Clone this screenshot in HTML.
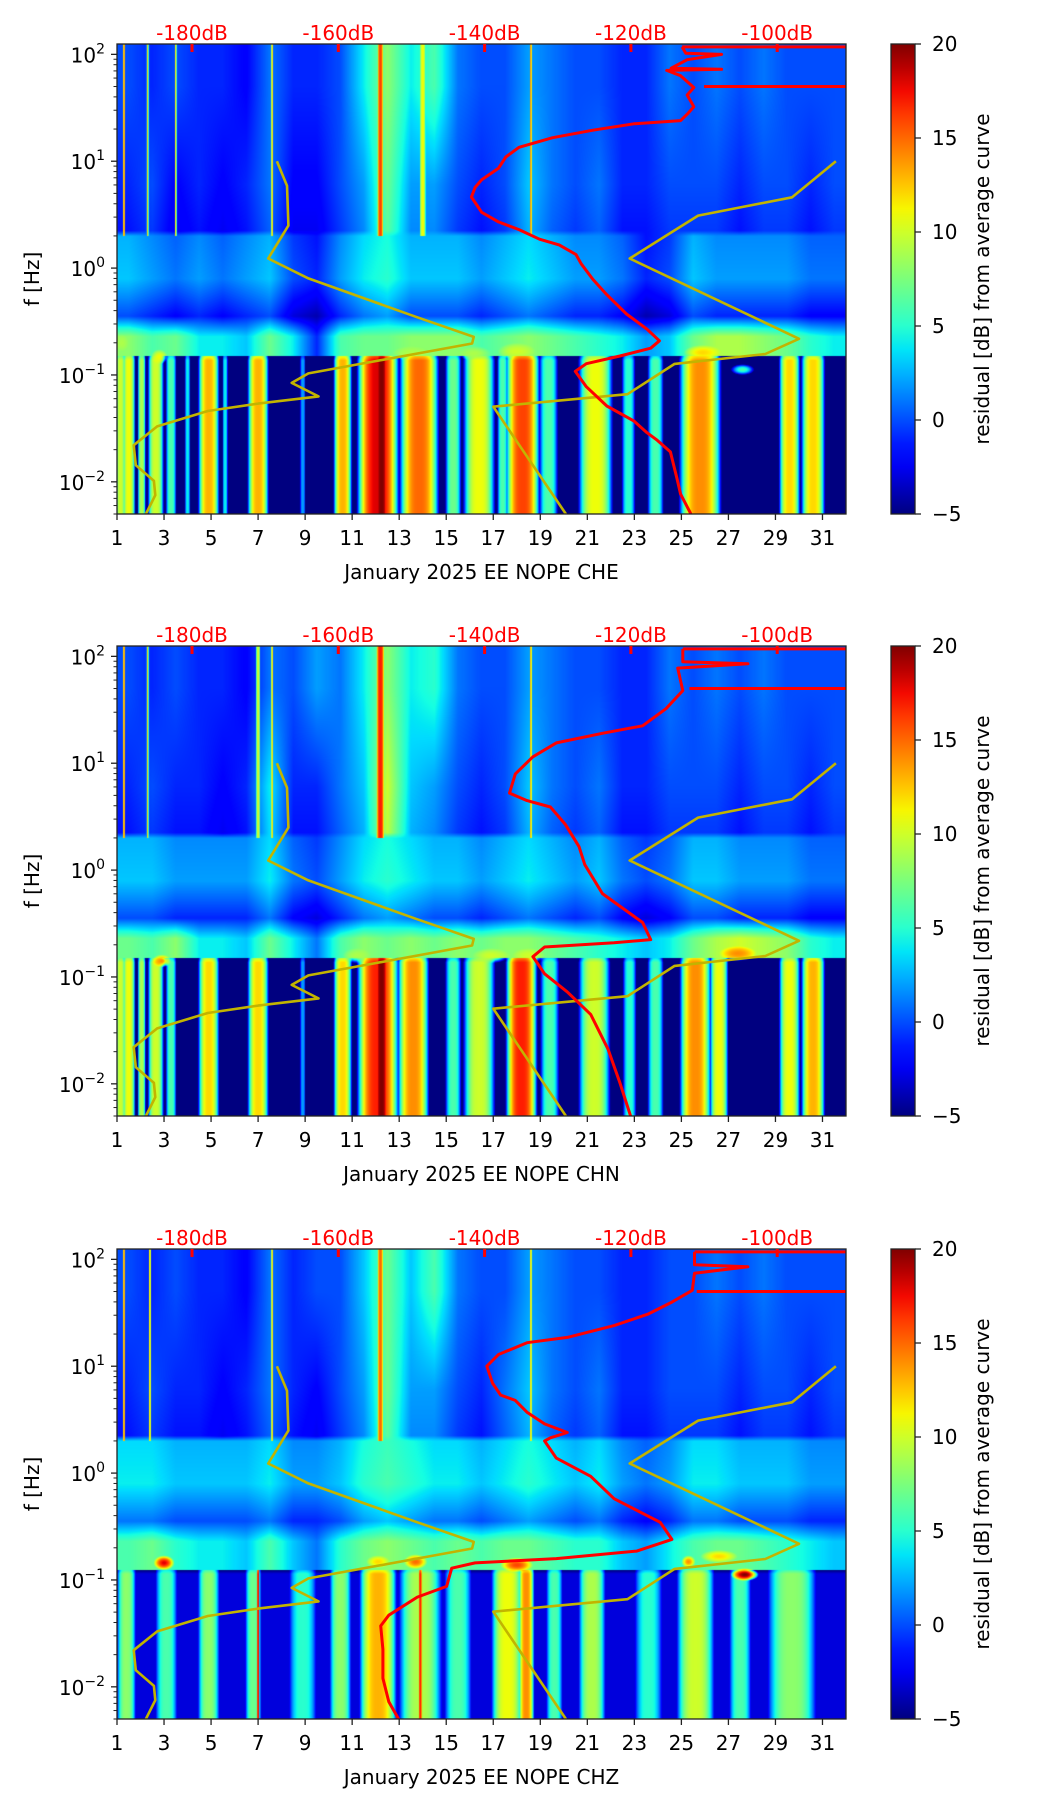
<!DOCTYPE html>
<html><head><meta charset="utf-8">
<style>
html,body{margin:0;padding:0;background:#fff;}
body{width:1052px;height:1806px;position:relative;overflow:hidden;font-family:"DejaVu Sans","Liberation Sans",sans-serif;}
canvas{position:absolute;}
svg{position:absolute;left:0;top:0;}
</style></head>
<body>
<canvas id="c0" width="729" height="470" style="left:117px;top:44px"></canvas>
<canvas id="c1" width="729" height="470" style="left:117px;top:646px"></canvas>
<canvas id="c2" width="729" height="470" style="left:117px;top:1249px"></canvas>
<svg id="ov" width="1052" height="1806"></svg>
<script>
// ---------- data ----------
const panelTops = [44, 646, 1249];
const channelNames = ["CHE", "CHN", "CHZ"];
const dayTicks = [1,3,5,7,9,11,13,15,17,19,21,23,25,27,29,31];
const freqDecades = [-2,-1,0,1,2];
const dbTicks = [-180,-160,-140,-120,-100];
const cbTicks = [20,15,10,5,0,-5];

// low-frequency stripes [centerDay, halfWidthDays, level dB]
const lowStripes1 = [[1.15,0.2,10],[1.5,0.25,11],[2.05,0.15,9],[2.65,0.3,10],[3.3,0.2,6],[4.0,0.1,4],[4.9,0.4,13],[5.6,0.1,4],[7.0,0.4,13],[8.9,0.1,2],[10.6,0.35,13],[12.1,0.8,18],[12.25,0.3,20],[13.85,0.75,15],[15.3,0.3,7],[16.4,0.6,11],[17.4,0.2,6],[18.25,0.65,16],[19.35,0.35,6],[21.35,0.65,11],[22.75,0.25,5],[23.9,0.3,6],[25.8,0.8,14],[29.6,0.4,12],[30.6,0.45,12]];
const lowStripes2 = [[1.15,0.2,10],[1.5,0.25,11],[2.05,0.15,9],[2.65,0.3,10],[3.3,0.2,6],[4.9,0.4,12],[7.0,0.4,12],[8.9,0.1,2],[10.6,0.35,12],[12.1,0.8,17],[12.25,0.3,20],[13.6,0.6,14],[15.3,0.3,6],[16.4,0.6,10],[18.2,0.6,17],[19.4,0.35,6],[21.3,0.6,10],[22.8,0.25,5],[23.9,0.3,6],[25.6,0.6,14],[26.6,0.35,11],[29.6,0.4,11],[30.6,0.45,13]];
const lowStripes3 = [[1.4,0.35,8],[3.1,0.4,6],[4.9,0.4,8],[6.8,0.3,7],[7.0,0.05,18],[8.9,0.5,5],[10.5,0.4,8],[12.1,0.7,13],[13.9,0.8,9],[13.9,0.08,17],[15.5,0.5,6],[17.6,0.6,11],[18.4,0.3,14],[19.6,0.3,6],[21.2,0.5,9],[23.6,0.5,5],[25.6,0.7,10],[27.5,0.4,6],[29.7,0.9,8]];

// daily band levels (day 1..31)
const hiBand1 = [0,-1,0,-1,-1,-2,1,-1,-1,0,4,8,4,6,1,0,0,2,1,0,0,-1,-1,1,0,1,0,1,0,0,0];
const midBand1 = [-1,0,-2,-1,-2,-1,1,-2,-2,0,2,7,2,2,0,-1,0,3,1,0,1,-1,-1,0,0,0,-1,0,0,-1,0];
const lowMidBand1 = [3,2,1,2,1,2,3,0,-1,2,4,5,3,3,3,2,3,4,3,2,2,1,-1,0,3,2,2,2,2,1,1];
const micBand1 = [8,6,7,4,4,3,7,4,-1,6,7,7,8,8,8,6,7,8,7,6,5,4,2,3,7,9,9,8,7,5,4];

const hiBand2 = [0,-1,0,-1,-1,-2,1,0,2,1,4,8,4,5,1,0,0,2,1,0,0,-1,-1,1,0,1,0,1,0,0,0];
const midBand2 = [-1,0,-1,-1,-2,-1,4,-1,-1,1,3,10,3,2,0,-1,0,3,1,0,1,-1,-1,0,0,0,-1,0,0,-1,0];
const lowMidBand2 = [3,3,2,2,2,2,4,1,0,2,4,5,4,3,3,2,3,4,3,2,3,1,0,1,3,3,2,2,2,1,1];
const micBand2 = [7,6,8,4,4,3,7,4,1,6,8,7,8,7,8,7,8,8,7,6,5,4,3,4,7,9,10,9,8,5,4];

const hiBand3 = [0,-1,0,-1,-1,-2,1,-1,0,0,3,7,3,6,1,0,0,2,1,0,0,-1,-1,0,0,1,0,1,0,0,0];
const midBand3 = [-1,0,-1,-1,-2,-1,1,-1,-2,0,2,7,2,2,0,-1,1,3,1,0,1,-1,-1,0,0,0,-1,0,0,-1,0];
const lowMidBand3 = [4,4,3,3,3,3,4,2,2,3,5,6,5,4,4,3,4,5,4,3,4,2,1,2,4,4,3,3,3,2,2];
const micBand3 = [6,7,5,4,4,3,6,3,1,5,7,8,7,6,7,6,7,7,6,5,5,3,2,4,6,7,7,6,5,4,3];

// upper streaks [centerDay, halfWidth, level]
const streaks1 = [[12.2,0.15,16],[1.3,0.05,14],[2.3,0.05,12],[3.5,0.04,12],[7.6,0.05,12],[18.6,0.05,14],[14.0,0.15,11]];
const streaks2 = [[12.2,0.2,17],[1.3,0.05,14],[2.3,0.05,12],[7.6,0.05,12],[18.6,0.05,13],[7.0,0.1,10]];
const streaks3 = [[12.2,0.15,15],[1.3,0.05,14],[2.4,0.05,12],[7.6,0.05,12],[18.6,0.05,12]];

// blobs [day, halfWidthDays, log10 f, halfWidth log10 f, level]
const blobs1 = [[2.8,0.35,-0.83,0.07,11],[1.2,0.3,-0.7,0.08,9],[25.9,0.8,-0.79,0.07,12],[27.6,0.5,-0.95,0.05,6],[16.2,0.7,-0.8,0.07,9],[18,0.8,-0.78,0.08,10],[13.5,0.8,-0.8,0.07,9]];
const blobs2 = [[2.9,0.4,-0.85,0.06,14],[27.4,0.8,-0.78,0.07,14],[16.9,0.8,-0.8,0.07,10],[11.2,0.6,-0.8,0.07,9],[18.5,0.7,-0.8,0.07,10]];
const blobs3 = [[3.0,0.45,-0.84,0.07,18],[13.7,0.5,-0.83,0.07,15],[18.0,0.7,-0.86,0.07,16],[26.6,0.8,-0.78,0.06,12],[27.7,0.6,-0.95,0.06,20],[12.1,0.5,-0.83,0.06,12],[25.3,0.3,-0.83,0.06,14]];

// yellow reference curves (day, Hz)
const yellowADays = [7.8,8.23,8.29,7.43,9.14,13.71,16.17,16.1,9.14,8.43,9.57,7.0,4.86,2.71,1.71,1.8,2.57,2.63,2.23];
const yellowAFreqs = [10,5.9,2.5,1.23,0.8,0.35,0.227,0.197,0.1035,0.0843,0.063,0.054,0.046,0.033,0.022,0.0143,0.0102,0.0075,0.005];
const yellowBDays = [31.57,29.71,25.71,22.8,30.0,28.57,24.71,22.71,17.0,20.09];
const yellowBFreqs = [10,4.6,3.1,1.23,0.218,0.157,0.127,0.066,0.0505,0.005];

// red average curves (dB, log10 Hz)
const redDb1 = [-111.8,-113.2,-113.7,-114.6,-116.4,-117.8,-119.6,-123.3,-126.1,-127.6,-126.1,-121.5,-117.3,-116.1,-117.8,-120.6,-123.3,-125.2,-126.8,-127.5,-129.8,-132.5,-135.3,-138.1,-140.4,-141.8,-141.3,-140.4,-138.1,-137.1,-135.3,-130.7,-125.2,-119.6,-113.2,-112.3,-111.4,-112.3,-111.4,-113.2,-115.1,-107.6,-114.5,-112.3,-107.6,-112.5,-113];
const redLogF1 = [-2.301,-2.115,-1.97,-1.72,-1.61,-1.54,-1.43,-1.29,-1.11,-0.967,-0.895,-0.823,-0.75,-0.68,-0.572,-0.43,-0.249,-0.106,0.04,0.127,0.217,0.27,0.36,0.432,0.522,0.665,0.755,0.827,0.935,1.04,1.13,1.22,1.29,1.35,1.38,1.44,1.51,1.62,1.69,1.8,1.85,1.86,1.87,1.95,2.0,2.01,2.07];
const redDb2 = [-120,-121.5,-123.1,-125.5,-128.7,-131.8,-133.4,-131.8,-122.3,-117.3,-118.4,-123.9,-126.3,-127.1,-129,-131,-134.2,-136.6,-135.8,-133.4,-130.2,-123.9,-118.4,-115.2,-112.9,-113.6,-104,-112.9,-112.9];
const redLogF2 = [-2.31,-1.99,-1.68,-1.35,-1.14,-0.97,-0.81,-0.72,-0.68,-0.65,-0.49,-0.22,0.05,0.22,0.43,0.59,0.65,0.72,0.9,1.06,1.19,1.28,1.35,1.51,1.68,1.89,1.93,1.95,2.07];
const redDb3 = [-151.6,-153.1,-153.9,-153.9,-154.2,-153.1,-149.2,-145.2,-144.5,-141.3,-130.2,-119.2,-114.4,-116,-122.3,-125.5,-130.2,-131.8,-131,-128.7,-131.8,-134.2,-135.8,-137.8,-138.9,-139.7,-138.1,-134.2,-128.7,-122.3,-117.6,-114.4,-111.6,-111.3,-104,-111.3,-111.3];
const redLogF3 = [-2.32,-2.14,-1.92,-1.65,-1.43,-1.33,-1.16,-1.06,-0.89,-0.84,-0.8,-0.73,-0.62,-0.46,-0.24,-0.03,0.14,0.3,0.33,0.38,0.46,0.57,0.68,0.73,0.84,1.0,1.11,1.22,1.27,1.38,1.49,1.6,1.71,1.87,1.93,1.95,2.07];
const humLineDb = [-110, -112, -111];
const lowCut = [0.15, 0.15, 0.125];
const lowBg = [-5, -5, -3];

const panels = [
  {stripes: lowStripes1, hi: hiBand1, mid: midBand1, lm: lowMidBand1, mic: micBand1, streaks: streaks1, blobs: blobs1, redDb: redDb1, redLogF: redLogF1},
  {stripes: lowStripes2, hi: hiBand2, mid: midBand2, lm: lowMidBand2, mic: micBand2, streaks: streaks2, blobs: blobs2, redDb: redDb2, redLogF: redLogF2},
  {stripes: lowStripes3, hi: hiBand3, mid: midBand3, lm: lowMidBand3, mic: micBand3, streaks: streaks3, blobs: blobs3, redDb: redDb3, redLogF: redLogF3}
];

// ---------- axes ----------
const AX_L = 117, AX_W = 729, AX_H = 470;
const DAY0 = 1, DAY1 = 32;
const LF0 = Math.log10(0.005), LF1 = Math.log10(125);
function xDay(d){ return (d - DAY0) / (DAY1 - DAY0) * AX_W; }
function yLog(lf){ return (LF1 - lf) / (LF1 - LF0) * AX_H; }
function yFreq(f){ return yLog(Math.log10(f)); }
function xDb(db){ return 75 + (db + 180) * 7.315; }
function vmT(v){ return Math.max(0, Math.min(1, (v + 5) / 25)); }

function seg(pts, t){
  for (let i = 1; i < pts.length; i++){
    if (t <= pts[i][0]){
      const a = pts[i-1], b = pts[i];
      return a[1] + (b[1]-a[1]) * (t - a[0]) / (b[0]-a[0]);
    }
  }
  return pts[pts.length-1][1];
}
const JR = [[0,0],[0.35,0],[0.66,1],[0.89,1],[1,0.5]];
const JG = [[0,0],[0.125,0],[0.375,1],[0.64,1],[0.91,0],[1,0]];
const JB = [[0,0.5],[0.11,1],[0.34,1],[0.65,0],[1,0]];
function jet(t){ return [seg(JR,t)*255, seg(JG,t)*255, seg(JB,t)*255]; }

function daily(arr, d){
  const p = Math.max(0, Math.min(arr.length - 1, d - 1.5));
  const i = Math.floor(p), f = p - i;
  const j = Math.min(arr.length - 1, i + 1);
  return arr[i] * (1 - f) + arr[j] * f;
}
function stripeVal(list, d, bg){
  let v = bg;
  for (const s of list){
    const q = Math.abs(d - s[0]) / (s[1] * 1.15);
    if (q < 1){ const w = bg + (s[2] - bg) * (1 - q*q*q); if (w > v) v = w; }
  }
  return v;
}

// ---------- heatmaps ----------
panels.forEach((P, pi) => {
  const cv = document.getElementById('c' + pi);
  const ctx = cv.getContext('2d');
  const img = ctx.createImageData(AX_W, AX_H);
  const cutL = Math.log10(lowCut[pi]);
  const cols = [];
  for (let x = 0; x < AX_W; x++){
    const d = DAY0 + (x + 0.5) / AX_W * (DAY1 - DAY0);
    cols.push({d: d, low: stripeVal(P.stripes, d, lowBg[pi]), hi: daily(P.hi, d), mid: daily(P.mid, d), lm: daily(P.lm, d), mic: daily(P.mic, d), st: stripeVal(P.streaks, d, -10)});
  }
  for (let y = 0; y < AX_H; y++){
    const lf = LF1 - (y + 0.5) / AX_H * (LF1 - LF0);
    for (let x = 0; x < AX_W; x++){
      const c = cols[x];
      let v;
      if (lf < cutL){
        v = c.low;
        if (lf > cutL - 0.04) v = v - (lf - (cutL - 0.04)) * 60;
      } else {
        const anc = [[-0.85, c.mic], [-0.64, c.mic], [-0.45, c.lm - 3], [-0.1, c.lm], [0.3, c.lm - 0.5], [0.35, c.mid - 0.5], [0.78, c.mid], [1.7, c.hi]];
        if (lf <= anc[0][0]) v = anc[0][1];
        else v = seg(anc, lf);
        if (lf > 0.3 && c.st > v) v = c.st;
      }
      for (const b of P.blobs){
        const q = Math.pow((c.d - b[0]) / b[1], 2) + Math.pow((lf - b[2]) / b[3], 2);
        if (q < 1){ const w = v + (b[4] - v) * (1 - q); if (w > v) v = w; }
      }
      const col = jet(vmT(v));
      const k = (y * AX_W + x) * 4;
      img.data[k] = col[0]; img.data[k+1] = col[1]; img.data[k+2] = col[2]; img.data[k+3] = 255;
    }
  }
  ctx.putImageData(img, 0, 0);
});

// ---------- overlay ----------
const NS = 'http://www.w3.org/2000/svg';
const ov = document.getElementById('ov');
function el(tag, attrs, parent){
  const e = document.createElementNS(NS, tag);
  for (const k in attrs) e.setAttribute(k, attrs[k]);
  (parent || ov).appendChild(e);
  return e;
}
const defs = el('defs', {});
const grad = el('linearGradient', {id: 'jetg', x1: 0, y1: 1, x2: 0, y2: 0}, defs);
for (let i = 0; i <= 20; i++){
  const c = jet(i / 20);
  el('stop', {offset: (i * 5) + '%', 'stop-color': 'rgb(' + c.map(Math.round).join(',') + ')'}, grad);
}

panels.forEach((P, pi) => {
  const top = panelTops[pi];
  const g = el('g', {transform: 'translate(' + AX_L + ',' + top + ')'});
  
  
  const cp = el('clipPath', {id: 'clip' + pi}, defs);
  el('rect', {x: 0, y: 0, width: AX_W, height: AX_H}, cp);
  const plot = el('g', {'clip-path': 'url(#clip' + pi + ')'}, g);

  [[yellowADays, yellowAFreqs], [yellowBDays, yellowBFreqs]].forEach((yc, k) => {
    const pts = yc[0].map((d, i) => xDay(d).toFixed(1) + ',' + yFreq(yc[1][i]).toFixed(1)).join(' ');
    const pl = el('polyline', {points: pts, fill: 'none', stroke: '#c2b400', 'stroke-width': 2.6, 'stroke-linejoin': 'round'}, plot);
    
    
  });
  const rp = P.redDb.map((db, i) => xDb(db).toFixed(1) + ',' + yLog(P.redLogF[i]).toFixed(1)).join(' ');
  const red = el('polyline', {points: rp, fill: 'none', stroke: '#ff0000', 'stroke-width': 3, 'stroke-linejoin': 'round'}, plot);
  
  
  const lastDb = P.redDb[P.redDb.length - 1], lastLf = P.redLogF[P.redLogF.length - 1];
  const topLine = el('line', {x1: xDb(lastDb), y1: yLog(lastLf), x2: AX_W, y2: yLog(lastLf), stroke: '#ff0000', 'stroke-width': 3}, plot);
  
  
  const hum = el('line', {x1: xDb(humLineDb[pi]), y1: yFreq(50), x2: AX_W, y2: yFreq(50), stroke: '#ff0000', 'stroke-width': 3}, plot);
  
  

  el('rect', {x: 0, y: 0, width: AX_W, height: AX_H, fill: 'none', stroke: '#222', 'stroke-width': 1.3}, g);

  dayTicks.forEach(d => {
    const x = xDay(d);
    el('line', {x1: x, y1: AX_H, x2: x, y2: AX_H + 6, stroke: '#222', 'stroke-width': 1.3}, g);
    const t = el('text', {x: x, y: AX_H + 31, 'text-anchor': 'middle', 'font-size': 20, fill: '#000'}, g);
    t.textContent = d;
    
    
  });
  const xl = el('text', {x: AX_W / 2, y: AX_H + 65, 'text-anchor': 'middle', 'font-size': 20, fill: '#000', 'xml:space': 'preserve'}, g);
  xl.textContent = 'January 2025 EE NOPE  ' + channelNames[pi];
  
  

  for (let dec = -3; dec <= 2; dec++){
    for (let m = 1; m <= 9; m++){
      const lf = dec + Math.log10(m);
      if (lf < LF0 || lf > LF1) continue;
      const y = yLog(lf);
      el('line', {x1: m === 1 ? -6 : -3.5, y1: y, x2: 0, y2: y, stroke: '#222', 'stroke-width': m === 1 ? 1.3 : 1}, g);
    }
  }
  freqDecades.forEach(dec => {
    const y = yLog(dec);
    const t = el('text', {x: -12, y: y + 8, 'text-anchor': 'end', 'font-size': 20, fill: '#000'}, g);
    
    
    const b = el('tspan', {}, t); b.textContent = '10';
    const s = el('tspan', {dy: -9, 'font-size': 14}, t); s.textContent = dec < 0 ? '\u2212' + (-dec) : String(dec);
  });
  const yl = el('text', {x: 0, y: 0, transform: 'translate(-78,' + (AX_H / 2) + ') rotate(-90)', 'text-anchor': 'middle', 'font-size': 20, fill: '#000'}, g);
  yl.textContent = 'f [Hz]';
  
  

  dbTicks.forEach(db => {
    const x = xDb(db);
    el('rect', {x: x - 1.5, y: 0, width: 3, height: 8, fill: '#ff0000'}, g);
    const t = el('text', {x: x, y: -4, 'text-anchor': 'middle', 'font-size': 20, fill: '#ff0000'}, g);
    t.textContent = db + 'dB';
    
    
  });

  const cb = el('g', {transform: 'translate(891,' + top + ')'});
  
  
  el('rect', {x: 0, y: 0, width: 24, height: AX_H, fill: 'url(#jetg)', stroke: '#222', 'stroke-width': 1.3}, cb);
  cbTicks.forEach(v => {
    const y = (20 - v) / 25 * AX_H;
    el('line', {x1: 24, y1: y, x2: 30, y2: y, stroke: '#222', 'stroke-width': 1.3}, cb);
    const t = el('text', {x: 41, y: y + 7, 'font-size': 20, fill: '#000'}, cb);
    t.textContent = v < 0 ? '\u2212' + (-v) : String(v);
    
    
  });
  const cl = el('text', {x: 0, y: 0, transform: 'translate(98,' + (AX_H / 2) + ') rotate(-90)', 'text-anchor': 'middle', 'font-size': 20, fill: '#000'}, cb);
  cl.textContent = 'residual [dB] from average curve';
  
  
});
</script>
</body></html>
